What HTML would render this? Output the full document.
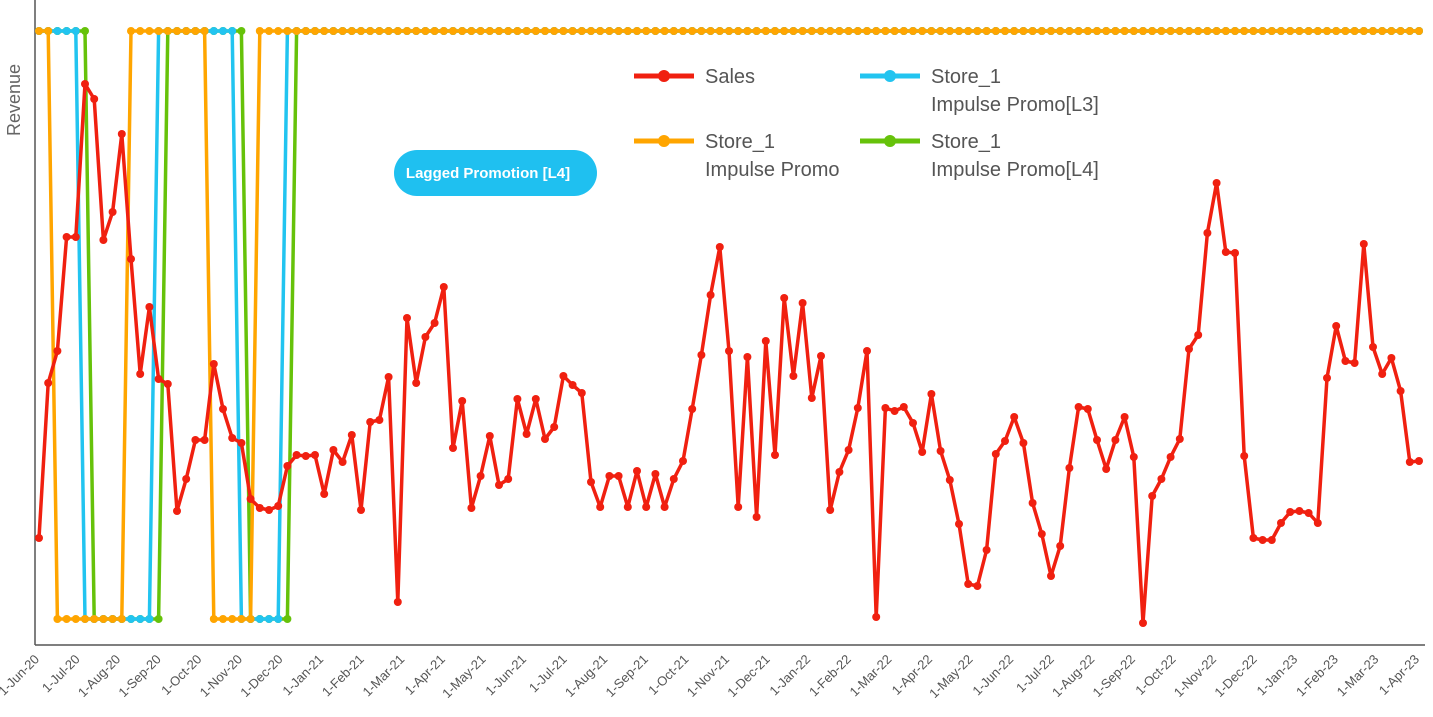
<!DOCTYPE html>
<html><head><meta charset="utf-8"><style>
body{margin:0;background:#fff;width:1433px;height:717px;overflow:hidden;font-family:"Liberation Sans",sans-serif}
svg{position:absolute;left:0;top:0}
</style></head><body>
<svg id="c" width="1433" height="717" xmlns="http://www.w3.org/2000/svg">
<line x1="35" y1="0" x2="35" y2="645" stroke="#555" stroke-width="1.5"/>
<line x1="35" y1="645" x2="1425" y2="645" stroke="#555" stroke-width="1.5"/>
<text x="20" y="100" transform="rotate(-90 20 100)" text-anchor="middle" font-size="18" fill="#666">Revenue</text>
<g id="series"></g>
<g id="labels" font-size="13" fill="#555"></g>
<line x1="634" y1="76" x2="694" y2="76" stroke="#f02010" stroke-width="5"/><circle cx="664" cy="76" r="6" fill="#f02010"/>
<text x="705" y="83" font-size="20" fill="#555">Sales</text>
<line x1="634" y1="141" x2="694" y2="141" stroke="#ffa500" stroke-width="5"/><circle cx="664" cy="141" r="6" fill="#ffa500"/>
<text x="705" y="148" font-size="20" fill="#555">Store_1</text>
<text x="705" y="176" font-size="20" fill="#555">Impulse Promo</text>
<line x1="860" y1="76" x2="920" y2="76" stroke="#22c4f0" stroke-width="5"/><circle cx="890" cy="76" r="6" fill="#22c4f0"/>
<text x="931" y="83" font-size="20" fill="#555">Store_1</text>
<text x="931" y="111" font-size="20" fill="#555">Impulse Promo[L3]</text>
<line x1="860" y1="141" x2="920" y2="141" stroke="#66c20a" stroke-width="5"/><circle cx="890" cy="141" r="6" fill="#66c20a"/>
<text x="931" y="148" font-size="20" fill="#555">Store_1</text>
<text x="931" y="176" font-size="20" fill="#555">Impulse Promo[L4]</text>
<rect x="394" y="150" width="203" height="46" rx="23" fill="#1fc0f0"/>
<text x="488" y="178" font-size="15" font-weight="bold" fill="#fff" text-anchor="middle">Lagged Promotion [L4]</text>
</svg>
<script>
var s=[538,383,351,237,237,84,99,240,212,134,259,374,307,379,384,511,479,440,440,364,409,438,443,499,508,510,506,466,455,456,455,494,450,462,435,510,422,420,377,602,318,383,337,323,287,448,401,508,476,436,485,479,399,434,399,439,427,376,385,393,482,507,476,476,507,471,507,474,507,479,461,409,355,295,247,351,507,357,517,341,455,298,376,303,398,356,510,472,450,408,351,617,408,411,407,423,452,394,451,480,524,584,586,550,454,441,417,443,503,534,576,546,468,407,409,440,469,440,417,457,623,496,479,457,439,349,335,233,183,252,253,456,538,540,540,523,512,511,513,523,378,326,361,363,244,347,374,358,391,462,461];
var n=s.length,x0=39,step=(1419-39)/(n-1),NS="http://www.w3.org/2000/svg";
function X(i){return x0+i*step}
function inR(i,rs){for(var r of rs)if(i>=r[0]&&i<=r[1])return true;return false}
function promo(rs){var a=[];for(var i=0;i<n;i++)a.push(inR(i,rs)?619:31);return a}
var g=document.getElementById('series');
function draw(ys,col,w,r){
 var p=ys.map(function(y,i){return X(i).toFixed(1)+','+y}).join(' ');
 var pl=document.createElementNS(NS,'polyline');pl.setAttribute('points',p);pl.setAttribute('fill','none');pl.setAttribute('stroke',col);pl.setAttribute('stroke-width',w);pl.setAttribute('stroke-linejoin','round');g.appendChild(pl);
 ys.forEach(function(y,i){var c=document.createElementNS(NS,'circle');c.setAttribute('cx',X(i));c.setAttribute('cy',y);c.setAttribute('r',r);c.setAttribute('fill',col);g.appendChild(c);});
}
draw(promo([[6,13],[23,27]]),'#66c20a',3.5,4);
draw(promo([[5,12],[22,26]]),'#22c4f0',3.5,4);
draw(promo([[2,9],[19,23]]),'#ffa500',3.5,4);
draw(s,'#f02010',3.5,4);
var m=['Jun-20','Jul-20','Aug-20','Sep-20','Oct-20','Nov-20','Dec-20','Jan-21','Feb-21','Mar-21','Apr-21','May-21','Jun-21','Jul-21','Aug-21','Sep-21','Oct-21','Nov-21','Dec-21','Jan-22','Feb-22','Mar-22','Apr-22','May-22','Jun-22','Jul-22','Aug-22','Sep-22','Oct-22','Nov-22','Dec-22','Jan-23','Feb-23','Mar-23','Apr-23'];
var L=document.getElementById('labels');
m.forEach(function(t,i){var x=40+i*(1380/34),y=660;var e=document.createElementNS(NS,'text');e.setAttribute('x',x);e.setAttribute('y',y);e.setAttribute('text-anchor','end');e.setAttribute('transform','rotate(-45 '+x+' '+y+')');e.textContent='1-'+t;L.appendChild(e);});
</script>
</body></html>
